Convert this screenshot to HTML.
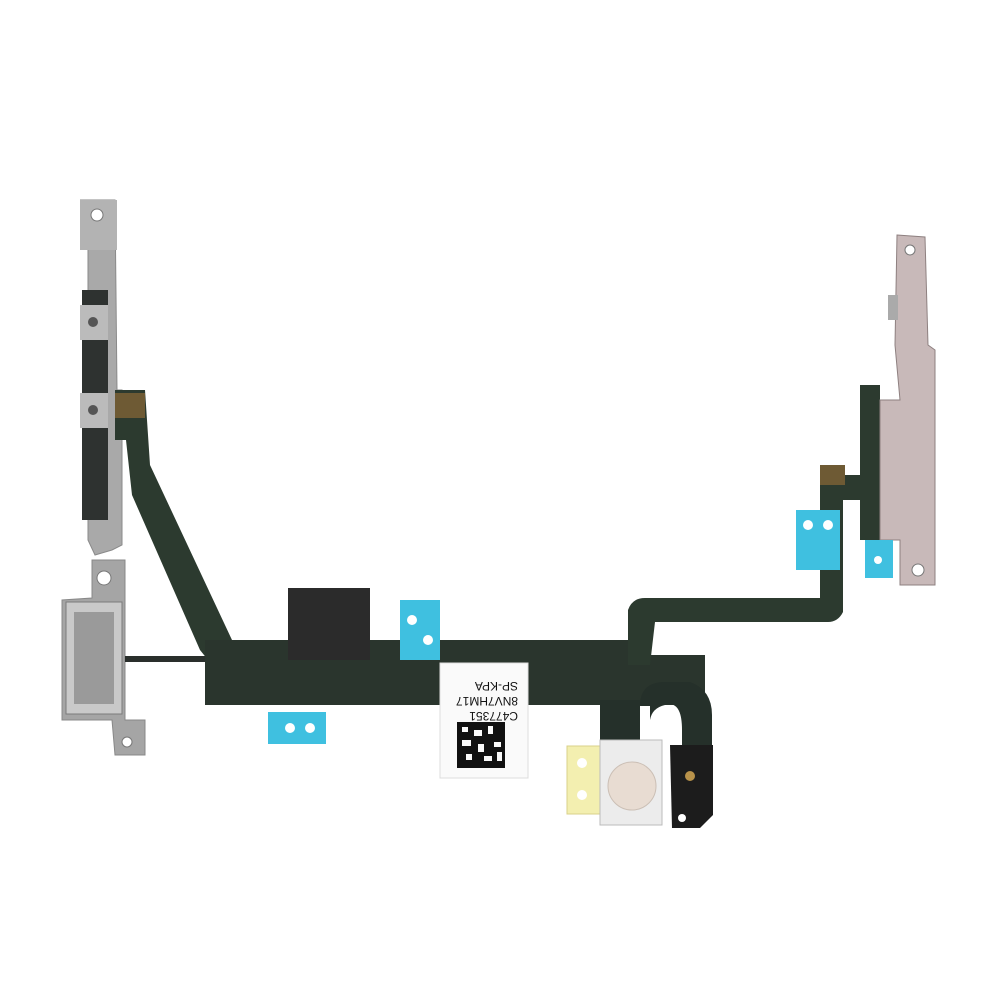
<!DOCTYPE html>
<html><head><meta charset="utf-8"><style>html,body{margin:0;padding:0;background:#fff}svg{display:block}</style></head>
<body>
<svg width="1000" height="1000" viewBox="0 0 1000 1000" xmlns="http://www.w3.org/2000/svg">
<rect width="1000" height="1000" fill="#fff"/>
<!-- left metal bracket -->
<path d="M80,200 L115,200 L117,390 L122,390 L122,545 L112,550 L95,555 L88,540 L88,200 Z" fill="#a9a9a9" stroke="#8a8a8a"/>
<rect x="80" y="200" width="37" height="50" fill="#b3b3b3"/>
<circle cx="97" cy="215" r="6" fill="#fff" stroke="#777"/>
<rect x="82" y="290" width="26" height="230" fill="#2e3230"/>
<rect x="80" y="305" width="28" height="35" fill="#bbb"/><circle cx="93" cy="322" r="5" fill="#555"/>
<rect x="80" y="393" width="28" height="35" fill="#bbb"/><circle cx="93" cy="410" r="5" fill="#555"/>
<!-- lower bracket connector -->
<path d="M92,560 L125,560 L125,720 L145,720 L145,755 L115,755 L112,720 L62,720 L62,600 L92,598 Z" fill="#a5a5a5" stroke="#888"/>
<rect x="66" y="602" width="56" height="112" fill="#c9c9c9" stroke="#7a7a7a"/>
<rect x="74" y="612" width="40" height="92" fill="#9a9a9a"/>
<circle cx="104" cy="578" r="7" fill="#fff" stroke="#777"/>
<circle cx="127" cy="742" r="5" fill="#fff" stroke="#777"/>
<!-- flex -->
<path d="M115,390 L145,390 L150,465 L232,640 L290,640 L290,665 L212,665 L200,650 L132,495 L126,440 L115,440 Z" fill="#2c3a2f"/>
<rect x="115" y="393" width="30" height="25" fill="#6e5a34"/>
<rect x="125" y="656" width="95" height="6" fill="#2a2f2c"/>
<path d="M205,640 L630,640 L630,655 L705,655 L705,705 L205,705 Z" fill="#2a352d"/>
<rect x="288" y="588" width="82" height="72" fill="#2b2b2b"/>
<!-- right flex -->
<path d="M628,665 L628,610 Q632,598 645,598 L820,598 L820,475 L860,475 L860,385 L880,385 L880,540 L860,540 L860,500 L843,500 L843,612 Q838,622 828,622 L655,622 L650,665 Z" fill="#2c3a2f"/>
<rect x="820" y="465" width="25" height="20" fill="#6e5a34"/>
<!-- right bracket -->
<path d="M897,235 L925,237 L928,345 L935,350 L935,585 L900,585 L900,540 L880,540 L880,400 L900,400 L895,345 Z" fill="#c8b9b9" stroke="#8e8080"/>
<circle cx="910" cy="250" r="5" fill="#fff" stroke="#777"/>
<circle cx="918" cy="570" r="6" fill="#fff" stroke="#777"/>
<rect x="888" y="295" width="10" height="25" fill="#aaa"/>
<!-- blue adhesives -->
<rect x="400" y="600" width="40" height="60" fill="#3fc0e0"/><circle cx="412" cy="620" r="5" fill="#fff"/><circle cx="428" cy="640" r="5" fill="#fff"/>
<rect x="268" y="712" width="58" height="32" fill="#3fc0e0"/><circle cx="290" cy="728" r="5" fill="#fff"/><circle cx="310" cy="728" r="5" fill="#fff"/>
<rect x="796" y="510" width="44" height="60" fill="#3fc0e0"/><circle cx="808" cy="525" r="5" fill="#fff"/><circle cx="828" cy="525" r="5" fill="#fff"/>
<rect x="865" y="540" width="28" height="38" fill="#3fc0e0"/><circle cx="878" cy="560" r="4" fill="#fff"/>
<!-- label -->
<rect x="440" y="663" width="88" height="115" fill="#fafafa" stroke="#ddd"/>
<g transform="rotate(180 484 700)" font-family="Liberation Sans, sans-serif" font-size="12" fill="#111">
<text x="450" y="688">C477351</text><text x="450" y="703">8NV7HM17</text><text x="450" y="718">SP-KPA</text>
</g>
<g fill="#111"><rect x="457" y="722" width="48" height="46"/></g>
<g fill="#fafafa"><rect x="462" y="727" width="6" height="5"/><rect x="474" y="730" width="8" height="6"/><rect x="488" y="726" width="5" height="8"/><rect x="462" y="740" width="9" height="6"/><rect x="478" y="744" width="6" height="8"/><rect x="494" y="742" width="7" height="5"/><rect x="466" y="754" width="6" height="6"/><rect x="484" y="756" width="8" height="5"/><rect x="497" y="752" width="5" height="9"/></g>
<!-- flash loop -->
<path d="M600,700 L640,700 L640,745 L600,745 Z" fill="#25302a"/>
<path d="M640,706 Q640,682 665,682 L690,682 Q712,690 712,715 L712,750 L682,750 L682,730 Q682,700 665,705 Q652,708 650,720 L650,706 Z" fill="#25302a"/>
<rect x="567" y="746" width="34" height="68" fill="#f3efb0" stroke="#d9d08a"/>
<circle cx="582" cy="763" r="5" fill="#fff"/><circle cx="582" cy="795" r="5" fill="#fff"/>
<rect x="600" y="740" width="62" height="85" fill="#ececec" stroke="#bbb"/>
<circle cx="632" cy="786" r="24" fill="#e8dcd2" stroke="#cbbfb5"/>
<path d="M670,745 L713,745 L713,815 L700,828 L672,828 Z" fill="#1c1c1c"/>
<circle cx="690" cy="776" r="5" fill="#b8924a"/>
<circle cx="682" cy="818" r="4" fill="#fff"/>
</svg>
</body></html>
